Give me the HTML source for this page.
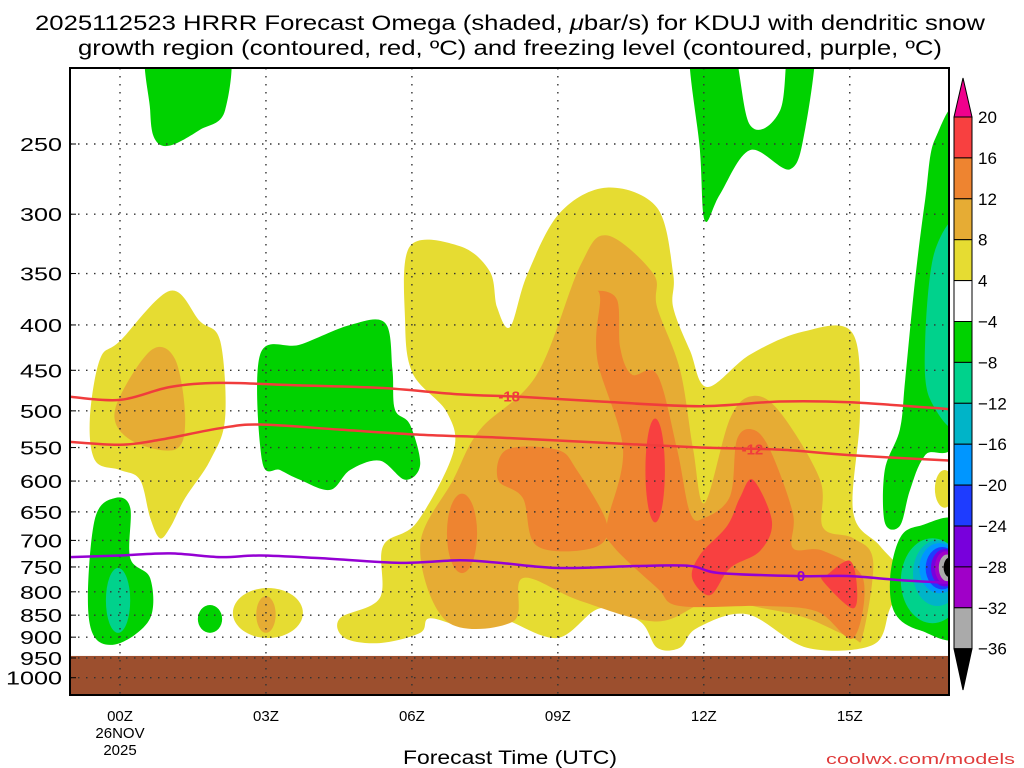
<!DOCTYPE html>
<html><head><meta charset="utf-8"><style>
body{margin:0;background:#fff;width:1024px;height:768px;overflow:hidden;font-family:"Liberation Sans",sans-serif}
svg{display:block}
</style></head><body>
<svg id="c" width="1024" height="768" xmlns="http://www.w3.org/2000/svg">
<text x="35" y="30" font-size="21" textLength="950" lengthAdjust="spacingAndGlyphs">2025112523 HRRR Forecast Omega (shaded, <tspan font-style="italic">μ</tspan>bar/s) for KDUJ with dendritic snow</text>
<text x="78" y="55" font-size="21" textLength="864" lengthAdjust="spacingAndGlyphs">growth region (contoured, red, ºC) and freezing level (contoured, purple, ºC)</text>
<text x="403" y="764" font-size="19" textLength="214" lengthAdjust="spacingAndGlyphs">Forecast Time (UTC)</text>
<text x="826" y="764" font-size="15" textLength="189" lengthAdjust="spacingAndGlyphs" fill="#e03c3c">coolwx.com/models</text>
<defs><clipPath id="pc"><rect x="70" y="68" width="879" height="627"/></clipPath></defs>
<g id="shade" clip-path="url(#pc)"></g>
<g id="grid"></g>
<g id="lines" clip-path="url(#pc)"></g>
<rect x="70" y="68" width="879" height="627" fill="none" stroke="#000" stroke-width="2"/>
<g id="axes"></g>
<g id="cbar"></g>
</svg>
<script>
// axis ticks
const pTicks=[250,300,350,400,450,500,550,600,650,700,750,800,850,900,950,1000];
const hTicks=[0,3,6,9,12,15];
const hLabels=["00Z","03Z","06Z","09Z","12Z","15Z"];
// contour lines [hour, hPa]
const dgzTop=[[-1.03,482],[0,486],[1.03,470],[2.06,465],[3.7,468],[5.34,471],[6.99,479],[8.22,482],[9.87,488],[11.92,494],[13.57,488],[15,489],[17.1,498]];
const dgzBot=[[-1.03,542],[0,546],[0.82,539],[2.06,523],[2.88,518],[4.52,525],[6.17,532],[7.81,536],[9.87,543],[11.92,550],[13.57,553],[15,561],[17.1,569]];
const frz=[[-1.03,731],[0,728],[1.03,724],[2.06,731],[2.88,728],[4.11,733],[5.76,742],[6.99,737],[7.81,742],[9.04,752],[10.69,748],[11.72,748],[12.33,762],[13.98,768],[15,768],[16.03,776],[17.1,782]];
// colorbar
const cbLevels=["20","16","12","8","4","−4","−8","−12","−16","−20","−24","−28","−32","−36"];
const cbColors=["#f84040","#ee8430","#e6ac34","#e6dc32","#ffffff","#00d200","#00d28c","#00b4c8","#0096ff","#1e3cff","#7800dc","#a000c8","#aaaaaa"];
// shading polygons: [color, points[hour,hPa]]
const polys=[
["#e6dc32",[[5.96,326],[6.99,326],[7.6,348],[7.75,382],[8.02,402],[8.37,351],[9.04,299],[10.01,280],[11.04,295],[11.37,350],[11.37,382],[11.72,428],[12.07,470],[12.95,432],[14.04,407],[15.05,408],[15.21,502],[15.07,650],[15.62,710],[16.14,772],[15.83,835],[15.48,918],[14.12,925],[12.89,848],[11.86,879],[11.51,925],[11.04,925],[10.69,864],[9.87,835],[8.98,902],[7.81,857],[7.19,879],[6.37,857],[6.17,890],[5.34,914],[4.62,902],[4.52,857],[5.34,813],[5.41,710],[6.1,668],[6.85,557],[6.72,502],[6.02,454],[5.86,396]]],
["#e6dc32",[[-0.62,510],[-0.41,437],[0,417],[1.03,366],[1.64,396],[2.06,417],[2.16,510],[1.85,569],[1.34,627],[1.03,677],[0.82,696],[0.62,660],[0.41,598],[0,583],[-0.51,569]]],
["#e6ac34",[[-0.1,498],[0.62,428],[1.13,437],[1.34,510],[1.13,553],[0.21,539]]],
["#e6ac34",[[10.01,317],[10.96,350],[11.04,382],[11.51,449],[11.78,552],[12.02,635],[12.54,510],[13.01,481],[13.57,502],[14.39,598],[14.45,677],[15.07,696],[15.48,738],[15.27,895],[15.05,902],[14.12,857],[13.22,835],[12.13,819],[11.04,864],[9.46,819],[8.28,772],[8.08,864],[6.72,864],[6.17,710],[6.85,598],[7.4,525],[8.57,455],[9.46,343]]],
["#ee8430",[[7.95,553],[8.98,553],[9.39,583],[10.01,671],[9.72,714],[8.57,710],[8.28,627],[7.77,598]]],
["#ee8430",[[9.83,366],[10.22,375],[10.28,424],[10.52,455],[11.04,455],[11.45,552],[11.72,652],[12.02,660],[12.54,624],[12.68,539],[13.01,525],[13.36,553],[13.83,652],[13.83,714],[14.45,719],[15.27,772],[15.07,902],[14.33,842],[13.22,830],[11.51,830],[11.04,792],[10.13,710],[10.01,671],[10.34,552],[9.81,437],[9.87,375]]],
["#f84040",[[13.01,598],[13.4,666],[13.16,719],[12.54,752],[12.13,807],[11.76,772],[11.92,727],[12.48,674],[12.74,627]]],
["#f84040",[[15.0,738],[15.15,792],[15.05,835],[14.45,778],[14.53,766]]],
["#00d200",[[0.62,190],[2.16,190],[2.16,229],[1.64,241],[1.03,251],[0.72,247],[0.62,229]]],
["#00d200",[[2.88,432],[3.7,421],[4.73,400],[5.45,398],[5.6,449],[5.65,498],[5.96,518],[6.17,575],[5.86,598],[5.34,569],[4.73,583],[4.32,614],[3.7,598],[3.29,583],[2.92,569]]],
["#00d200",[[-0.51,660],[-0.1,627],[0.21,643],[0.21,733],[0.62,772],[0.62,857],[0,914],[-0.51,902],[-0.66,813]]],
["#00d200",[[11.72,190],[12.54,190],[12.95,238],[13.57,229],[13.77,190],[14.29,190],[14.08,241],[13.77,267],[12.95,254],[12.33,285],[12.02,305],[11.92,254]]],
["#00d200",[[17.3,238],[16.75,247],[16.55,289],[16.34,357],[16.14,461],[16.03,525],[15.72,583],[15.72,668],[16.03,674],[16.24,614],[16.55,561],[17.3,510]]],
["#00d200",[[16.03,696],[16.44,674],[17.3,674],[17.3,890],[16.44,884],[15.93,846],[15.83,772]]],
["#00d28c",[[16.75,330],[17.3,313],[17.3,510],[16.65,485],[16.55,417]]]
];
// ellipses: [color, hour, pTop, pBottom, halfWidthHours]
const blobs=[
["#e6dc32",3.04,792,902,0.72],["#e6ac34",3.0,809,890,0.2],
["#ee8430",7.03,620,762,0.31],
["#f84040",11.0,510,668,0.2],
["#00d28c",-0.04,752,890,0.25],["#00d200",1.85,828,890,0.25],
["#e6dc32",16.95,583,643,0.2],
["#00d28c",16.7,696,868,0.65],["#00b4c8",16.8,700,830,0.5],["#0096ff",16.85,705,803,0.42],["#1e3cff",16.9,712,795,0.34],["#7800dc",16.95,716,789,0.28],["#a000c8",16.97,720,784,0.22],["#aaaaaa",17.0,726,778,0.17],["#000000",17.05,732,770,0.12]
];
const X0=70,X1=949,Y0=68,Y1=695;
const hx=h=>120+h*48.65;
const py=p=>144+385*Math.log(p/250);
const NS="http://www.w3.org/2000/svg";
function mk(tag,attrs,parent){const e=document.createElementNS(NS,tag);for(const k in attrs)e.setAttribute(k,attrs[k]);parent.appendChild(e);return e;}
function smooth(pts,closed){
  const P=pts.map(([h,p])=>[hx(h),py(p)]);const n=P.length;let d=`M${P[0][0]},${P[0][1]}`;
  const g=i=>closed?P[(i+n)%n]:P[Math.max(0,Math.min(n-1,i))];
  const last=closed?n:n-1;
  for(let i=0;i<last;i++){const p0=g(i-1),p1=g(i),p2=g(i+1),p3=g(i+2);
    d+=` C${p1[0]+(p2[0]-p0[0])/6},${p1[1]+(p2[1]-p0[1])/6} ${p2[0]-(p3[0]-p1[0])/6},${p2[1]-(p3[1]-p1[1])/6} ${p2[0]},${p2[1]}`;}
  return d+(closed?"Z":"");
}
const shade=document.getElementById('shade');
function drawPoly([c,pts]){const e=mk('path',{d:smooth(pts,true),fill:c},shade);

}
function drawBlob([c,h,pt,pb,w]){const yt=py(pt),yb=py(pb);const e=mk('ellipse',{cx:hx(h),cy:(yt+yb)/2,rx:w*48.65,ry:(yb-yt)/2,fill:c},shade);

}
polys.slice(0,4).forEach(drawPoly);
blobs.slice(0,2).forEach(drawBlob);
polys.slice(4,6).forEach(drawPoly);
blobs.slice(2,3).forEach(drawBlob);
polys.slice(6,8).forEach(drawPoly);
blobs.slice(3,4).forEach(drawBlob);
polys.slice(8).forEach(drawPoly);
blobs.slice(4).forEach(drawBlob);
// ground
const gr=mk('rect',{x:X0,y:py(945),width:X1-X0,height:Y1-py(945),fill:'#9c4f2e'},shade);


// grid & axes
const grid=document.getElementById('grid'),axes=document.getElementById('axes');
pTicks.forEach(p=>{const y=py(p);
 const l=mk('line',{x1:X0,x2:X1,y1:y,y2:y,stroke:'#333',"stroke-width":1.4,"stroke-dasharray":"1.5 6.5"},grid);
 
 
 const t=mk('line',{x1:X0,x2:X0+6,y1:y,y2:y,stroke:'#000'},axes);
 
 
 const s=String(p);
 const tx=mk('text',{x:62-s.length*14,y:y+7,"font-size":18,textLength:s.length*14,lengthAdjust:"spacingAndGlyphs"},axes);tx.textContent=s;
 
 
});
hTicks.forEach((h,i)=>{const x=hx(h);
 const l=mk('line',{x1:x,x2:x,y1:Y0,y2:Y1,stroke:'#333',"stroke-width":1.4,"stroke-dasharray":"1.5 6.5"},grid);
 
 
 const tx=mk('text',{x:x,y:721,"font-size":15,"text-anchor":"middle"},axes);tx.textContent=hLabels[i];
 
 
});
[["26NOV",738],["2025",755]].forEach(([s,y])=>{const tx=mk('text',{x:hx(0),y:y,"font-size":15,"text-anchor":"middle"},axes);tx.textContent=s;
 
 });
// contour lines
const lines=document.getElementById('lines');
[[dgzTop,'#f03c3c','dgz-top-line'],[dgzBot,'#f03c3c','dgz-bottom-line'],[frz,'#9400d3','freezing-level-line']].forEach(([d,c,n])=>{
 const e=mk('path',{d:smooth(d,false),fill:'none',stroke:c,"stroke-width":2.5},lines);
 
 });
[["-18",8.0,482,'#f03c3c'],["-12",13.0,553,'#f03c3c'],["0",14.0,768,'#9400d3']].forEach(([s,h,p,c])=>{
 const x=hx(h),y=py(p);
 const tx=mk('text',{x:x,y:y+5,"font-size":15,"font-weight":"bold",fill:c,"text-anchor":"middle"},lines);tx.textContent=s;
 
 });
// colorbar
const cb=document.getElementById('cbar');const CX=954,CW=18,CT=117,CS=40.9;
const tri=mk('polygon',{points:`${CX},${CT} ${CX+CW},${CT} ${CX+CW/2},78`,fill:'#f0008c',stroke:'#000'},cb);


cbColors.forEach((c,i)=>{const r=mk('rect',{x:CX,y:CT+i*CS,width:CW,height:CS,fill:c,stroke:'#000'},cb);
 
 });
const yb=CT+cbColors.length*CS;
const tri2=mk('polygon',{points:`${CX},${yb} ${CX+CW},${yb} ${CX+CW/2},690`,fill:'#000',stroke:'#000'},cb);


cbLevels.forEach((s,i)=>{const y=CT+i*CS;
 const tx=mk('text',{x:978,y:y+6,"font-size":17},cb);tx.textContent=s;
 
 });
</script>
</body></html>
